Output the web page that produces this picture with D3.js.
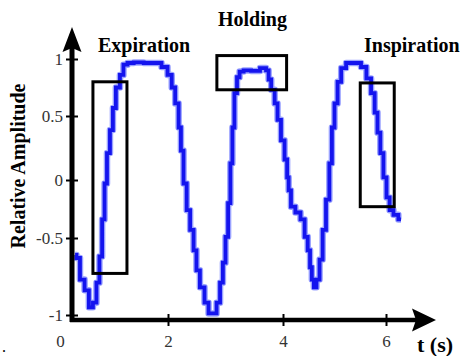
<!DOCTYPE html>
<meta charset="utf-8">
<style>
    body { margin: 0; background: #fff; }
    svg { display: block; }
    svg text { font-family: "Liberation Serif", "Times New Roman", Times, serif !important; }
    .tick text { fill: #333; font-size: 17px; }
    .tick line { stroke: #000; stroke-width: 2; }
    .label { font-weight: bold; font-size: 20px; fill: #000; }
    path.halo { fill: none; stroke: #9aa2ff; stroke-width: 6.5; stroke-linejoin: round; }
    path.signal { fill: none; stroke: #1414ee; stroke-width: 3.8; }
    rect.box { fill: none; stroke: #000; stroke-width: 3; }
</style>
<body>
<script src="https://cdn.jsdelivr.net/npm/d3@7"></script>
<script>

    var width = 466, height = 356;

    // time (s) and relative amplitude
    var time = [0.28, 0.33, 0.41, 0.50, 0.57, 0.65, 0.70, 0.76, 0.80, 0.85, 0.89, 0.96, 1.00, 1.07, 1.15,
                1.20, 1.30, 1.43, 1.67, 1.82, 1.94, 2.04, 2.09, 2.16, 2.21, 2.24, 2.30, 2.35, 2.42, 2.47,
                2.52, 2.59, 2.68, 2.73, 2.82, 2.87, 2.94, 2.97, 3.03, 3.06, 3.11, 3.13, 3.18, 3.22, 3.27,
                3.36, 3.53, 3.67, 3.74, 3.76, 3.83, 3.88, 3.93, 4.00, 4.06, 4.10, 4.12, 4.19, 4.29, 4.39,
                4.45, 4.51, 4.54, 4.58, 4.62, 4.68, 4.74, 4.80, 4.87, 4.93, 4.97, 5.03, 5.09, 5.17, 5.28,
                5.46, 5.57, 5.67, 5.75, 5.81, 5.86, 5.92, 5.98, 6.04, 6.10, 6.19, 6.29];
    var amplitude = [-0.61, -0.63, -0.77, -0.84, -0.95, -0.92, -0.79, -0.62, -0.34, -0.03, 0.21, 0.39, 0.57, 0.75, 0.86,
                     0.95, 0.965, 0.97, 0.965, 0.965, 0.93, 0.86, 0.75, 0.61, 0.41, 0.23, -0.03, -0.26, -0.43, -0.58,
                     -0.71, -0.82, -0.92, -0.99, -0.99, -0.92, -0.79, -0.66, -0.49, -0.20, 0.13, 0.41, 0.70, 0.84, 0.89,
                     0.90, 0.895, 0.92, 0.90, 0.82, 0.73, 0.61, 0.47, 0.31, 0.16, 0.02, -0.09, -0.23, -0.28, -0.34,
                     -0.49, -0.58, -0.69, -0.77, -0.82, -0.77, -0.64, -0.43, -0.17, 0.13, 0.41, 0.61, 0.80, 0.92, 0.965,
                     0.965, 0.93, 0.83, 0.70, 0.53, 0.37, 0.21, 0.02, -0.15, -0.26, -0.30, -0.34];

    var xTicks = [0, 2, 4, 6];
    var yTicks = [-1, -0.5, 0, 0.5, 1];

    // highlighted phases
    var phaseNames = ["Expiration", "Holding", "Inspiration"];
    var phaseT0 = [0.61, 2.85, 5.50];
    var phaseT1 = [1.24, 4.07, 6.16];
    var phaseLow = [-0.73, 0.73, -0.23];
    var phaseHigh = [0.80, 1.03, 0.79];

    // the scanned axes are slightly uneven, so piecewise scales
    var x = d3.scaleLinear().domain([0, 2, 4, 6]).range([60, 168, 283, 386]);
    var y = d3.scaleLinear().domain([-1, -0.5, 0, 0.5, 1]).range([315, 238, 180, 116, 59]);

    var originX = 72, originY = 320;
    var serif = '"Liberation Serif", "Times New Roman", Times, serif';

    var svg = d3.select("body").append("svg")
            .attr("width", width)
            .attr("height", height);

    // curve
    var data = time.map(function(t, i) { return {t: t, v: amplitude[i]}; });
    var line = d3.line()
            .x(function(d) { return x(d.t); })
            .y(function(d) { return y(d.v); })
            .curve(d3.curveStep);

    svg.append("path").datum(data).attr("class", "halo").attr("d", line);
    svg.append("path").datum(data).attr("class", "signal").attr("d", line);

    // boxes
    svg.selectAll("rect.box")
            .data(phaseNames)
        .enter().append("rect")
            .attr("class", "box")
            .attr("x", function(d, i) { return x(phaseT0[i]); })
            .attr("y", function(d, i) { return y(phaseHigh[i]); })
            .attr("width", function(d, i) { return x(phaseT1[i]) - x(phaseT0[i]); })
            .attr("height", function(d, i) { return y(phaseLow[i]) - y(phaseHigh[i]); });

    var labelPos = [[98, 52], [218, 26], [364, 52]];
    svg.selectAll("text.phase")
            .data(phaseNames)
        .enter().append("text")
            .attr("class", "label phase")
            .attr("font-family", serif)
            .attr("x", function(d, i) { return labelPos[i][0]; })
            .attr("y", function(d, i) { return labelPos[i][1]; })
            .text(function(d) { return d; });

    // y axis
    var yAxis = d3.axisLeft(y)
            .tickValues(yTicks)
            .tickSize(6)
            .tickPadding(3)
            .tickFormat(function(d) { return String(d); });

    var gy = svg.append("g")
            .attr("transform", "translate(" + originX + ",0)")
            .call(yAxis);
    gy.select(".domain").remove();
    gy.attr("font-size", null).attr("font-family", serif);
    gy.selectAll(".tick line").attr("x1", 6);

    // x axis
    var xAxis = d3.axisBottom(x)
            .tickValues(xTicks)
            .tickSize(6)
            .tickPadding(9)
            .tickFormat(function(d) { return String(d); });

    var gx = svg.append("g")
            .attr("transform", "translate(0," + originY + ")")
            .call(xAxis);
    gx.select(".domain").remove();
    gx.attr("font-size", null).attr("font-family", serif);
    gx.selectAll(".tick line")
            .attr("y1", -6)
            .style("display", function(d) { return d === 0 ? "none" : null; });

    // axis lines with arrow heads
    svg.append("line")
            .attr("x1", originX).attr("y1", originY + 2)
            .attr("x2", originX).attr("y2", 48)
            .attr("stroke", "#000").attr("stroke-width", 5);
    svg.append("path")
            .attr("d", "M72,27L81.5,52L72,48L62.5,52Z")
            .attr("fill", "#000");

    svg.append("line")
            .attr("x1", originX - 2).attr("y1", originY)
            .attr("x2", 418).attr("y2", originY)
            .attr("stroke", "#000").attr("stroke-width", 4.5);
    svg.append("path")
            .attr("d", "M436,320L412,308.5L416,320L412,331.5Z")
            .attr("fill", "#000");

    // axis titles
    svg.append("text")
            .attr("class", "label")
            .attr("font-family", serif)
            .attr("transform", "translate(25,166) rotate(-90)")
            .attr("text-anchor", "middle")
            .text("Relative Amplitude");

    svg.append("text")
            .attr("class", "label")
            .attr("font-family", serif)
            .attr("x", 417)
            .attr("y", 352)
            .style("font-size", "22px")
            .text("t (s)");

    svg.append("text")
            .attr("font-family", serif)
            .attr("x", 2)
            .attr("y", 352)
            .style("font-size", "16px")
            .text(".");

</script>
